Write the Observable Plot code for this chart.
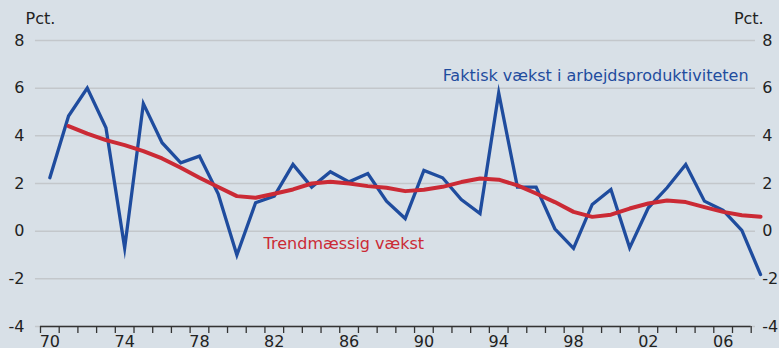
<!DOCTYPE html>
<html>
<head>
<meta charset="utf-8">
<script src="https://cdn.jsdelivr.net/npm/d3@7"></script>
<script src="https://cdn.jsdelivr.net/npm/@observablehq/plot@0.6"></script>
<style>
  html, body { margin: 0; padding: 0; background: #d8e0e7; }
  #chart svg { display: block; }
</style>
</head>
<body>
<div id="chart"></div>
<script>
// Annual growth in labour productivity, per cent
const years = d3.range(1970, 2009);

const actualGrowth = [
  2.24, 4.83, 6.0, 4.34, -0.7, 5.35, 3.71, 2.87, 3.15, 1.57,
  -1.0, 1.19, 1.47, 2.80, 1.85, 2.49, 2.07, 2.42, 1.26, 0.53,
  2.55, 2.24, 1.33, 0.74, 5.8, 1.85, 1.85, 0.10, -0.72, 1.12,
  1.75, -0.7, 0.98, 1.82, 2.80, 1.26, 0.87, 0.03, -1.82
];

// Trend series starts in 1971
const trendYears = d3.range(1971, 2009);
const trendGrowth = [
  4.41, 4.09, 3.82, 3.61, 3.36, 3.05, 2.66, 2.24, 1.85, 1.47,
  1.40, 1.57, 1.75, 2.0, 2.07, 2.0, 1.89, 1.82, 1.68, 1.74,
  1.86, 2.06, 2.21, 2.16, 1.92, 1.58, 1.22, 0.81, 0.60, 0.69,
  0.95, 1.16, 1.29, 1.22, 1.01, 0.81, 0.67, 0.60
];

const yTicks = [-4, -2, 0, 2, 4, 6, 8];
const xLabelYears = [1970, 1974, 1978, 1982, 1986, 1990, 1994, 1998, 2002, 2006];
const yearBoundaries = d3.range(1969.5, 2008, 1);

const actual = years.map((year, i) => ({year, value: actualGrowth[i]}));
const trend = trendYears.map((year, i) => ({year, value: trendGrowth[i]}));

const blue = "#1f4c9e";
const red = "#cb2a35";
const ink = "#222";
const font = "DejaVu Sans, Verdana, sans-serif";
const fs = 16;

const chart = Plot.plot({
  width: 779,
  height: 348,
  marginTop: 40,
  marginBottom: 22,
  marginLeft: 40,
  marginRight: 28.3,
  style: {background: "#d8e0e7", fontFamily: font, fontSize: fs + "px", color: ink, overflow: "visible"},
  x: {domain: [1969.5, 2007.5]},
  y: {domain: [-4, 8]},
  marks: [
    // horizontal grid lines
    Plot.ruleY(yTicks, {x1: 1969.23, x2: 2007.73, stroke: "#c3c7cb", strokeWidth: 1.5}),
    // baseline
    Plot.ruleY([-4], {x1: 1969.5, x2: 2007.5, stroke: "#333", strokeWidth: 1.5}),
    // year ticks between labels
    Plot.axisX({ticks: yearBoundaries, tickSize: 7, tickFormat: () => "", stroke: "#333", strokeWidth: 1.3, label: null}),
    Plot.axisX({ticks: xLabelYears, tickSize: 0, tickPadding: 9, tickFormat: d => String(d).slice(2), label: null, fill: ink, fontSize: fs}),
    Plot.axisY({anchor: "left", ticks: yTicks, tickSize: 0, tickPadding: 16, tickFormat: d => String(d), label: null, fill: ink, fontSize: fs}),
    Plot.axisY({anchor: "right", ticks: yTicks, tickSize: 0, tickPadding: 11, tickFormat: d => String(d), label: null, fill: ink, fontSize: fs, textAnchor: "start"}),
    Plot.text(["Pct."], {frameAnchor: "top-left", dx: -15, dy: -17, textAnchor: "start", lineAnchor: "bottom", fill: ink, fontSize: fs}),
    Plot.text(["Pct."], {frameAnchor: "top-right", dx: 12.5, dy: -17, textAnchor: "end", lineAnchor: "bottom", fill: ink, fontSize: fs}),
    // series
    Plot.line(actual, {x: "year", y: "value", stroke: blue, strokeWidth: 3.3, strokeLinejoin: "miter", strokeMiterlimit: 10}),
    Plot.line(trend, {x: "year", y: "value", stroke: red, strokeWidth: 4}),
    // series labels
    Plot.text(["Faktisk vækst i arbejdsproduktiviteten"], {x: 2007.36, y: 6.3, textAnchor: "end", lineAnchor: "bottom", fill: blue, fontSize: fs}),
    Plot.text(["Trendmæssig vækst"], {x: 1981.43, y: -0.76, textAnchor: "start", lineAnchor: "bottom", fill: red, fontSize: fs})
  ]
});

document.getElementById("chart").append(chart);
</script>
</body>
</html>
